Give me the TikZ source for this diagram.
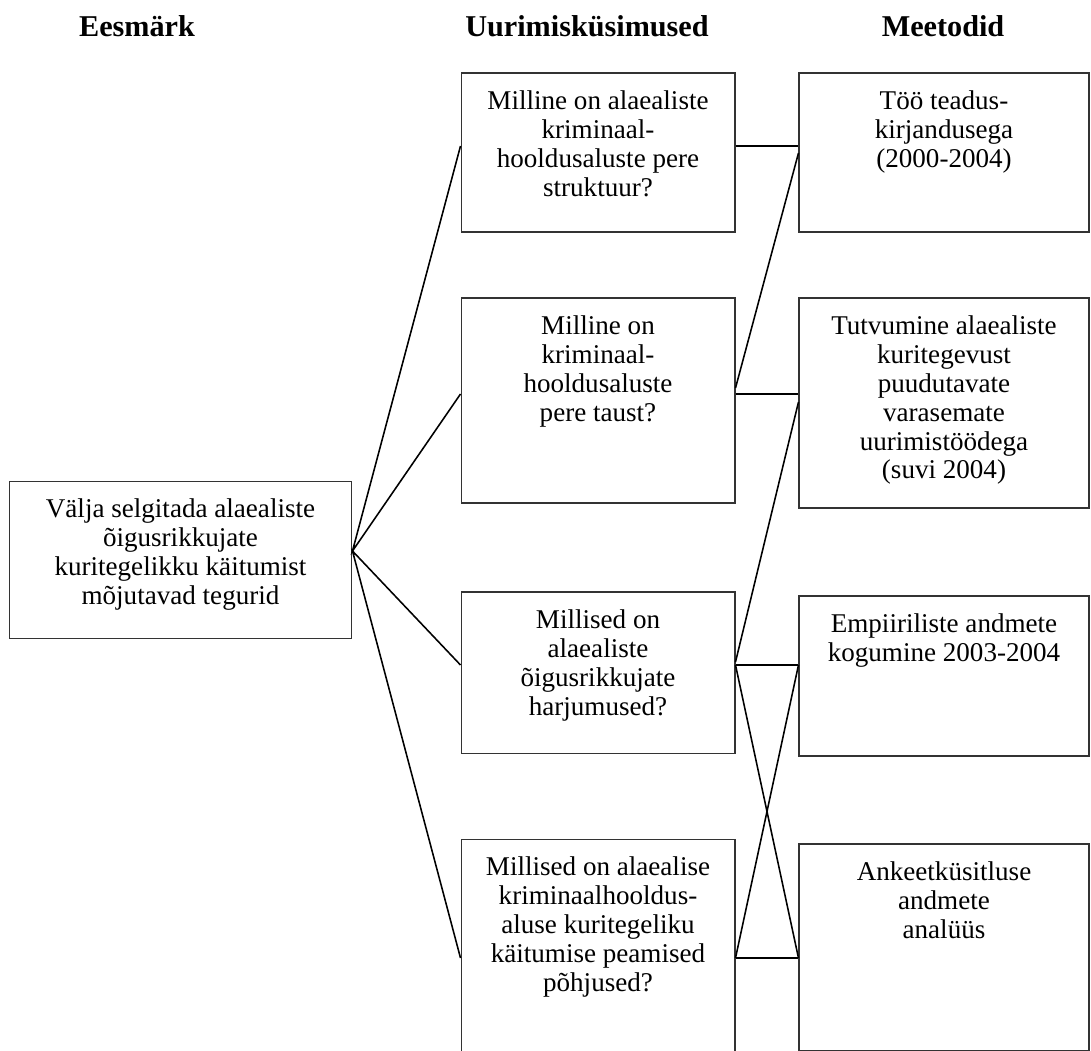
\documentclass[tikz,border=0pt]{standalone}
\usepackage{fontspec}
\setmainfont{Liberation Serif}
\usetikzlibrary{positioning}

\begin{document}
\begin{tikzpicture}[x=0.48pt,y=-0.48pt,
  box/.style={draw=black!80,line width=0.5pt,inner sep=0pt},
  txt/.style={align=center,inner sep=0pt,font=\fontsize{13}{13.9}\selectfont},
  head/.style={anchor=base,inner sep=0pt,font=\fontsize{14.5}{16}\selectfont\bfseries},
  conn/.style={line width=0.75pt}]
  \clip (0,0) rectangle (1091,1051);
  % pealkirjad
  \node[head] (hgoal) at (137,37) {Eesmärk};
  \node[head] (hques) at (587,37) {Uurimisküsimused};
  \node[head] (hmeth) at (943,37) {Meetodid};

  % eesmark
  \node[box,minimum width=164.6pt,minimum height=75.8pt] (goal) at (180.5,560) {};
  \node[txt,anchor=north] (goalt) at ([yshift=-8.4pt]goal.north)
    {Välja selgitada alaealiste\\õigusrikkujate\\kuritegelikku käitumist\\mõjutavad tegurid};

  % kusimused
  \node[box,minimum width=131.5pt,minimum height=76.3pt] (q1) at (598,152.5) {};
  \node[txt,anchor=north] (q1t) at ([yshift=-8.4pt]q1.north)
    {Milline on alaealiste\\kriminaal-\\hooldusaluste pere\\struktuur?};
  \node[box,minimum width=131.5pt,minimum height=98.4pt] (q2) at (598,400.5) {};
  \node[txt,anchor=north] (q2t) at ([yshift=-8.4pt]q2.north)
    {Milline on\\kriminaal-\\hooldusaluste\\pere taust?};
  \node[box,minimum width=131.5pt,minimum height=77.3pt] (q3) at (598,672.5) {};
  \node[txt,anchor=north] (q3t) at ([yshift=-8.4pt]q3.north)
    {Millised on\\alaealiste\\õigusrikkujate\\harjumused?};
  \node[box,minimum width=131.5pt,minimum height=110pt] (q4) at (598,953.6) {};
  \node[txt,anchor=north] (q4t) at ([yshift=-8.4pt]q4.north)
    {Millised on alaealise\\kriminaalhooldus-\\aluse kuritegeliku\\käitumise peamised\\põhjused?};

  % meetodid
  \node[box,minimum width=139.2pt,minimum height=76.3pt] (m1) at (944,152.5) {};
  \node[txt,anchor=north] (m1t) at ([yshift=-8.4pt]m1.north)
    {Töö teadus-\\kirjandusega\\(2000-2004)};
  \node[box,minimum width=139.2pt,minimum height=100.8pt] (m2) at (944,403) {};
  \node[txt,anchor=north] (m2t) at ([yshift=-8.4pt]m2.north)
    {Tutvumine alaealiste\\kuritegevust\\puudutavate\\varasemate\\uurimistöödega\\(suvi 2004)};
  \node[box,minimum width=139.2pt,minimum height=76.8pt] (m3) at (944,676) {};
  \node[txt,anchor=north] (m3t) at ([yshift=-8.4pt]m3.north)
    {Empiiriliste andmete\\kogumine 2003-2004};
  \node[box,minimum width=139.2pt,minimum height=98.9pt] (m4) at (944,947) {};
  \node[txt,anchor=north] (m4t) at ([yshift=-8.4pt]m4.north)
    {Ankeetküsitluse\\andmete\\analüüs};

  % seosed
  \draw[conn] (q1.west |- 0,146) -- (goal.east |- 0,551) -- (q2.west |- 0,394);
  \draw[conn] (q3.west |- 0,665) -- (goal.east |- 0,551) -- (q4.west |- 0,958);
  \draw[conn] (q1.east |- 0,146) -- (m1.west |- 0,146);
  \draw[conn] (q2.east |- 0,394) -- (m2.west |- 0,394);
  \draw[conn] (q3.east |- 0,665) -- (m3.west |- 0,665);
  \draw[conn] (q4.east |- 0,958) -- (m4.west |- 0,958);
  \draw[conn] (m1.west |- 0,153) -- (q2.east |- 0,388);
  \draw[conn] (m2.west |- 0,402) -- (q3.east |- 0,662);
  \draw[conn] (q3.east |- 0,665) -- (m4.west |- 0,958);
  \draw[conn] (m3.west |- 0,665) -- (q4.east |- 0,958);
\end{tikzpicture}
\end{document}
